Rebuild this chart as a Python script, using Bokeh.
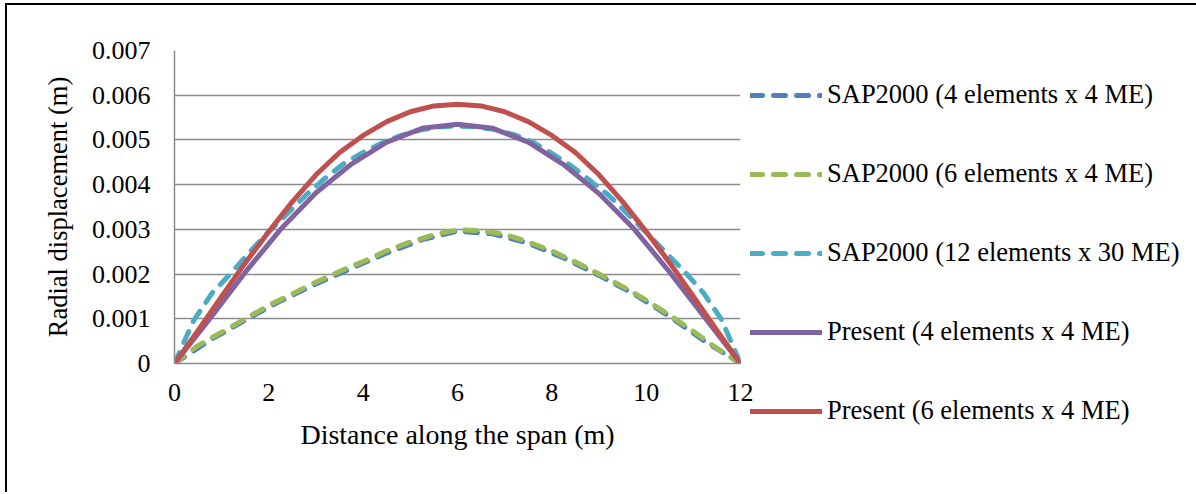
from bokeh.plotting import figure
from bokeh.models import Legend, LegendItem, FixedTicker, Range1d
from bokeh.embed import file_html
from bokeh.resources import INLINE

# ---- data ----
x_sap4 = [0, 0.75, 1.5, 2.25, 3, 3.75, 4.5, 5.25, 6, 6.75, 7.5, 8.25, 9, 9.75, 10.5, 11.25, 12]
y_sap4 = [0, 0.00052, 0.00097, 0.00140, 0.00178, 0.00213, 0.00247, 0.00277, 0.00296,
          0.00290, 0.00269, 0.00236, 0.00197, 0.00155, 0.00105, 0.00049, 0]

x_sap6 = [0, 0.5, 1, 1.5, 2, 2.5, 3, 3.5, 4, 4.5, 5, 5.5, 6, 6.5, 7, 7.5, 8, 8.5, 9, 9.5, 10, 10.5, 11, 11.5, 12]
y_sap6 = [0, 0.00040, 0.00070, 0.00100, 0.00130, 0.00156, 0.00182, 0.00206, 0.00228, 0.00252,
          0.00272, 0.00288, 0.00299, 0.00297, 0.00289, 0.00272, 0.00252, 0.00227, 0.00200,
          0.00172, 0.00142, 0.00108, 0.00072, 0.00034, 0]

x_sap12 = [0, 0.4, 0.8, 1.2, 1.6, 2.0, 2.4, 2.8, 3.2, 3.6, 4.0, 4.4, 4.8, 5.2, 5.6, 6.0,
           6.4, 6.8, 7.2, 7.6, 8.0, 8.4, 8.8, 9.2, 9.6, 10.0, 10.4, 10.8, 11.2, 11.6, 12.0]
y_sap12 = [0, 0.00095, 0.00158, 0.00202, 0.00250, 0.00295, 0.00336, 0.00378, 0.00415, 0.00448,
           0.00472, 0.00493, 0.00510, 0.00522, 0.00529, 0.00531, 0.00529, 0.00523, 0.00512,
           0.00495, 0.00470, 0.00443, 0.00410, 0.00377, 0.00335, 0.00293, 0.00250, 0.00207,
           0.00160, 0.00098, 0]

x_pre4 = [0, 0.75, 1.5, 2.25, 3, 3.75, 4.5, 5.25, 6, 6.75, 7.5, 8.25, 9, 9.75, 10.5, 11.25, 12]
y_pre4 = [0, 0.00100, 0.00204, 0.00300, 0.00382, 0.00446, 0.00495, 0.00526, 0.00535,
          0.00526, 0.00495, 0.00445, 0.00380, 0.00300, 0.00204, 0.00102, 0]

x_pre6 = [0, 0.5, 1, 1.5, 2, 2.5, 3, 3.5, 4, 4.5, 5, 5.5, 6, 6.5, 7, 7.5, 8, 8.5, 9, 9.5, 10, 10.5, 11, 11.5, 12]
y_pre6 = [0, 0.00074, 0.00150, 0.00225, 0.00295, 0.00362, 0.00422, 0.00472, 0.00510, 0.00541,
          0.00563, 0.00576, 0.00580, 0.00576, 0.00563, 0.00541, 0.00510, 0.00472, 0.00422,
          0.00362, 0.00295, 0.00225, 0.00150, 0.00074, 0]

series_names = ["SAP2000 (4 elements x 4 ME)", "SAP2000 (6 elements x 4 ME)",
                "SAP2000 (12 elements x 30 ME)", "Present (4 elements x 4 ME)",
                "Present (6 elements x 4 ME)"]

x_ticks = [0, 2, 4, 6, 8, 10, 12]
y_ticks = [0, 0.001, 0.002, 0.003, 0.004, 0.005, 0.006, 0.007]
y_tick_labels = ["0", "0.001", "0.002", "0.003", "0.004", "0.005", "0.006", "0.007"]

FONT = "Liberation Serif"
GRID = "#8c8c8c"

p = figure(frame_width=566, frame_height=313,
           min_border_left=167, min_border_right=455, min_border_top=45, min_border_bottom=129,
           x_range=Range1d(0, 12), y_range=Range1d(0, 0.007),
           output_backend="svg", toolbar_location=None)
p.styles = {"border-left": "2px solid black", "border-top": "2px solid black",
            "margin-left": "5px", "margin-top": "3px"}
p.outline_line_color = None
p.background_fill_color = "white"
p.border_fill_color = "white"

p.xgrid.visible = False
p.ygrid.ticker = FixedTicker(ticks=y_ticks)
p.ygrid.grid_line_color = GRID
p.ygrid.grid_line_width = 1.5

for ax in (p.xaxis[0], p.yaxis[0]):
    ax.major_tick_line_color = None
    ax.minor_tick_line_color = None
    ax.major_label_text_font = FONT
    ax.major_label_text_font_size = "26px"
    ax.major_label_text_color = "black"
    ax.axis_label_text_font = FONT
    ax.axis_label_text_font_style = "normal"
    ax.axis_label_text_color = "black"

p.xaxis.ticker = FixedTicker(ticks=x_ticks)
p.xaxis.axis_line_color = GRID
p.xaxis.axis_line_width = 1.5
p.xaxis.major_label_standoff = 14
p.xaxis.axis_label = "Distance along the span (m)"
p.xaxis.axis_label_text_font_size = "28px"
p.xaxis.axis_label_standoff = 15

p.yaxis.ticker = FixedTicker(ticks=y_ticks)
p.yaxis.major_label_overrides = dict(zip(y_ticks, y_tick_labels))
p.yaxis.axis_line_color = GRID
p.yaxis.axis_line_width = 1.5
p.yaxis.major_label_standoff = 18
p.yaxis.axis_label = "Radial displacement (m)"
p.yaxis.axis_label_text_font_size = "26.5px"
p.yaxis.axis_label_standoff = 16

DASH = "12 11"
r1 = p.line(x_sap4, y_sap4, line_color="#4F81BD", line_width=5, line_dash=DASH, line_cap="round")
r2 = p.line(x_sap6, y_sap6, line_color="#9BBB59", line_width=5, line_dash=DASH, line_cap="round")
r3 = p.line(x_sap12, y_sap12, line_color="#4BACC6", line_width=5, line_dash=DASH, line_cap="round")
r4 = p.line(x_pre4, y_pre4, line_color="#8064A2", line_width=5, line_join="round", line_cap="round")
r5 = p.line(x_pre6, y_pre6, line_color="#C0504D", line_width=5, line_join="round", line_cap="round")

legend = Legend(items=[LegendItem(label=n, renderers=[r]) for n, r in zip(series_names, [r1, r2, r3, r4, r5])],
                location=(10, -63), orientation="vertical",
                glyph_width=72, glyph_height=20, label_height=20, spacing=48, label_standoff=5,
                padding=0, margin=0, border_line_color=None, background_fill_alpha=0,
                label_text_font=FONT, label_text_font_size="26.5px", label_text_color="black")
p.add_layout(legend, "right")

open("out.html", "w").write(file_html(p, INLINE))
